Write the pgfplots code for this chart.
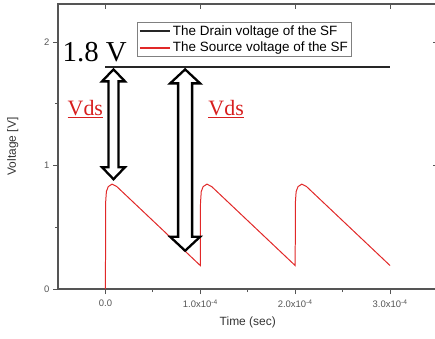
\documentclass[border=0pt]{standalone}
\usepackage{pgfplots}
\pgfplotsset{compat=1.18}
\usepackage{fontspec}
\setmainfont{Liberation Sans}
\newfontfamily\serif{Liberation Serif}
\definecolor{axgray}{RGB}{85,85,85}
\definecolor{curvered}{RGB}{225,40,40}
\definecolor{txtred}{RGB}{215,30,30}
\newcommand{\dblarrow}[6]{%
\draw[line width=2.3pt, fill=white, line join=miter, miter limit=3]
 (axis cs:#1,#2) -- ([xshift=#5,yshift=-#6]axis cs:#1,#2) -- ([xshift=#4,yshift=-#6]axis cs:#1,#2)
 -- ([xshift=#4,yshift=#6]axis cs:#1,#3) -- ([xshift=#5,yshift=#6]axis cs:#1,#3) -- (axis cs:#1,#3)
 -- ([xshift=-#5,yshift=#6]axis cs:#1,#3) -- ([xshift=-#4,yshift=#6]axis cs:#1,#3)
 -- ([xshift=-#4,yshift=-#6]axis cs:#1,#2) -- ([xshift=-#5,yshift=-#6]axis cs:#1,#2) -- cycle;}
\begin{document}
\begin{tikzpicture}
\pgfplotsset{
  common/.style={
    scale only axis, width=379.5bp, height=285bp,
    xmin=-0.5e-4, xmax=3.5e-4, ymin=0, ymax=2.31,
    axis line style={axgray, line width=1.3pt},
    every tick/.style={axgray, line width=1pt},
    major tick length=5bp, minor tick length=3bp,
    scaled x ticks=false,
  }
}
\begin{axis}[common, name=ax,
  tick align=outside, xtick pos=bottom, ytick pos=left,
  xtick={0,1e-4,2e-4,3e-4},
  xticklabels={0.0, 1.0x10\textsuperscript{-4}, 2.0x10\textsuperscript{-4}, 3.0x10\textsuperscript{-4}},
  ytick={0,1,2}, yticklabels={0,1,2},
  minor x tick num=1, minor y tick num=1,
  ticklabel style={font=\fontsize{9.5}{10}\selectfont, text=axgray},
  xticklabel style={yshift=-2bp},
  xlabel={Time (sec)}, ylabel={Voltage [V]},
  label style={font=\fontsize{12}{13}\selectfont, text=black!80},
  xlabel style={at={(rel axis cs:0.5,-0.116)}, anchor=center},
  ylabel style={at={(rel axis cs:-0.119,0.5)}, anchor=center},
  legend cell align=left,
  legend style={at={(rel axis cs:0.2084,0.937)}, anchor=north west,
    font=\fontsize{13.5}{14}\selectfont, draw=gray, line width=0.8pt,
    inner sep=1.5pt, row sep=1pt, fill=white},
  legend image code/.code={\draw[#1, line width=2pt] (0bp,0bp) -- (30bp,0bp);},
]
\addplot[black!85, line width=1.8pt] coordinates {(0,1.8) (3e-4,1.8)};
\addlegendentry{The Drain voltage of the SF}
\addplot[curvered, line width=1pt] coordinates {
(0,0) (0.2e-6,0.70) (1e-6,0.79) (3e-6,0.83) (7e-6,0.85) (12e-6,0.83) (100e-6,0.19)
(100.2e-6,0.70) (101e-6,0.79) (103e-6,0.83) (107e-6,0.85) (112e-6,0.83) (200e-6,0.19)
(200.2e-6,0.70) (201e-6,0.79) (203e-6,0.83) (207e-6,0.85) (212e-6,0.83) (300e-6,0.19)};
\addlegendentry{The Source voltage of the SF}
\dblarrow{0.085e-4}{1.78}{0.89}{5bp}{11.5bp}{12bp}
\dblarrow{0.84e-4}{1.78}{0.31}{7bp}{15bp}{14bp}
\node[anchor=base west, inner sep=0pt, font=\serif\fontsize{29}{30}\selectfont] at (axis cs:-0.453e-4,1.84) {1.8 V};
\node[anchor=base west, inner sep=0pt, text=txtred, font=\serif\fontsize{22}{24}\selectfont] at (axis cs:-0.40e-4,1.41) {\underline{Vds}};
\node[anchor=base west, inner sep=0pt, text=txtred, font=\serif\fontsize{22}{24}\selectfont] at (axis cs:1.084e-4,1.41) {\underline{Vds}};
\end{axis}
\begin{axis}[common,
  axis x line*=top, axis y line*=right, tick align=inside,
  xtick={0,1e-4,2e-4,3e-4}, ytick={0,1,2},
  xticklabels={}, yticklabels={},
]
\end{axis}
\pgfresetboundingbox
\path[use as bounding box] ([xshift=-58bp,yshift=-50bp]ax.south west) rectangle ([xshift=-2.5bp,yshift=4bp]ax.north east);
\end{tikzpicture}
\end{document}
